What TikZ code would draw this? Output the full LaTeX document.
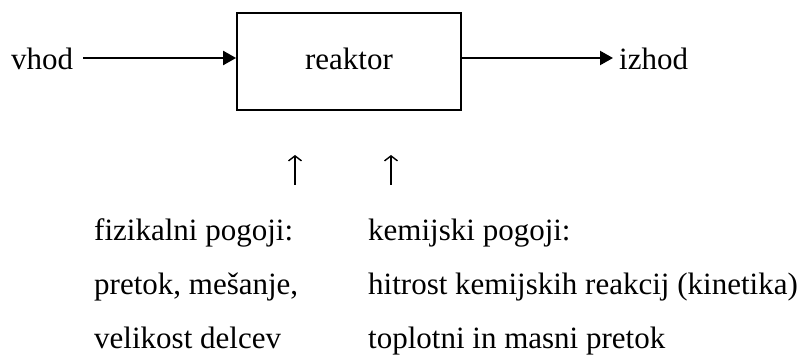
\documentclass[tikz,border=0pt]{standalone}
\usepackage{fontspec}
\setmainfont{Liberation Serif}
\usetikzlibrary{arrows.meta}
\begin{document}
\begin{tikzpicture}[x=1pt,y=-1pt,
  txt/.style={inner sep=0pt,anchor=base west,font=\fontsize{31}{31}\selectfont},
  flow/.style={line width=2.2pt,-{Triangle[length=13pt,width=14pt]}},
  uparr/.style={line width=1.4pt,-{Straight Barb[length=5pt,width=13pt,line width=1.4pt]}}]
\useasboundingbox (0,0) rectangle (799,355);
\node[draw,line width=1.8pt,minimum width=224pt,minimum height=97pt,inner sep=0pt] (box) at (349,61.5) {};
\node[txt,anchor=base] (lbl) at (349,70) {reaktor};
\node[txt] (vhod) at (11,70) {vhod};
\node[txt] (izhod) at (619,70) {izhod};
\coordinate (a1) at (83,58);
\coordinate (a2) at (613,58);
\draw[flow] (a1) -- (box.west |- a1);
\draw[flow] (box.east |- a2) -- (a2);
\coordinate (u1s) at (295,185);
\coordinate (u1e) at (295,155);
\coordinate (u2s) at (391,185);
\coordinate (u2e) at (391,155);
\draw[uparr] (u1s) -- (u1e);
\draw[uparr] (u2s) -- (u2e);
\node[txt] (f1) at (94,240) {fizikalni pogoji:};
\node[txt] (f2) at (94,294) {pretok, mešanje,};
\node[txt] (f3) at (94,348) {velikost delcev};
\node[txt] (k1) at (368,240) {kemijski pogoji:};
\node[txt] (k2) at (368,294) {hitrost kemijskih reakcij (kinetika)};
\node[txt] (k3) at (368,348) {toplotni in masni pretok};
\end{tikzpicture}
\end{document}
